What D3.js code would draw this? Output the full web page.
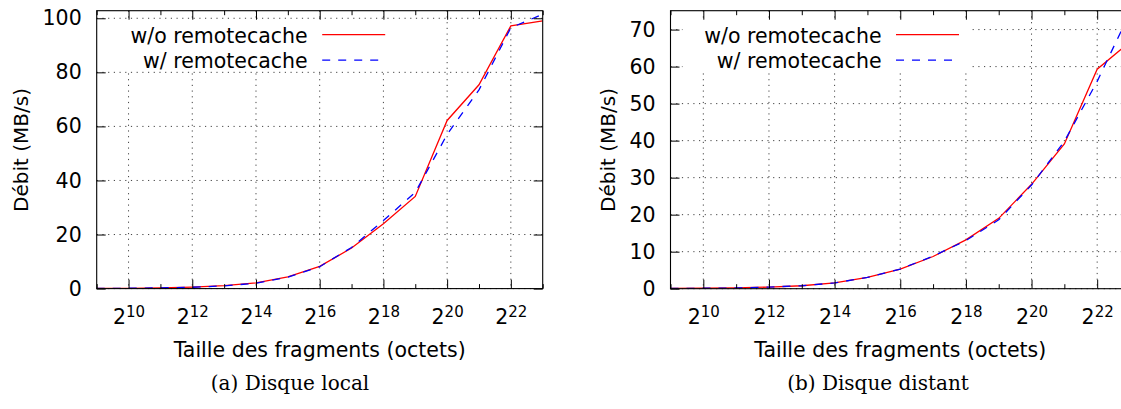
<!DOCTYPE html>
<html>
<head>
<meta charset="utf-8">
<script src="https://cdn.jsdelivr.net/npm/d3@7"></script>
<style>
    body { margin: 0; background: #fff; }
    text { font-family: "DejaVu Sans", sans-serif; fill: #000; }
</style>
</head>
<body>
<div id="chart"></div>
<script>

// fragment sizes, as powers of two (2^9 .. 2^23)
var sizeExp = [9, 10, 11, 12, 13, 14, 15, 16, 17, 18, 19, 20, 21, 22, 23];

// debit in MB/s
var localWithout  = [0.06, 0.12, 0.25, 0.55, 1.1, 2.1, 4.3, 8.2, 15.0, 24.0, 34.1, 62.2, 75.4, 97.2, 99.0];
var localWith     = [0.06, 0.12, 0.25, 0.5, 1.0, 2.0, 4.2, 8.1, 15.2, 25.2, 35.6, 57.0, 73.5, 96.5, 101.5];
var remoteWithout = [0.06, 0.12, 0.2, 0.45, 0.8, 1.55, 3.05, 5.3, 8.7, 13.2, 19.0, 28.2, 39.1, 59.3, 66.7];
var remoteWith    = [0.06, 0.12, 0.2, 0.45, 0.8, 1.55, 3.05, 5.3, 8.8, 13.0, 18.6, 28.0, 39.8, 56.0, 74.6];

var xMajorExp = [10, 12, 14, 16, 18, 20, 22];
var xMinorExp = [9, 11, 13, 15, 17, 19, 21, 23];
var localYTicks  = [0, 20, 40, 60, 80, 100];
var remoteYTicks = [0, 10, 20, 30, 40, 50, 60, 70];

var seriesNames = ["w/o remotecache", "w/ remotecache"];
var captions = ["(a) Disque local", "(b) Disque distant"];
var xTitle = "Taille des fragments (octets)";
var yTitle = "Débit (MB/s)";

var svg = d3.select("#chart").append("svg")
    .attr("width", 1121)
    .attr("height", 409);

svg.append("rect").attr("width", 1121).attr("height", 409).attr("fill", "#fff");

function drawPanel(p) {
    var w = p.right - p.left,
        h = p.bottom - p.top;

    var g = svg.append("g").attr("transform", "translate(" + p.left + "," + p.top + ")");

    var x = d3.scaleLog().base(2)
        .domain([Math.pow(2, 9), Math.pow(2, 23)])
        .range([0, w]);
    var y = d3.scaleLinear()
        .domain([0, p.yMax])
        .range([h, 0]);

    var pow2 = function(e) { return Math.pow(2, e); };

    g.append("clipPath").attr("id", p.id + "clip")
        .append("rect").attr("width", w).attr("height", h);

    /***** grid *****/
    var grid = g.append("g")
        .attr("stroke", "#444")
        .attr("stroke-width", 1)
        .attr("stroke-dasharray", "1.2,4.5");
    grid.selectAll(".gx").data(xMajorExp).enter().append("line")
        .attr("x1", function(d) { return x(pow2(d)); })
        .attr("x2", function(d) { return x(pow2(d)); })
        .attr("y1", 0).attr("y2", h);
    grid.selectAll(".gy").data(p.yTicks).enter().append("line")
        .attr("x1", 0).attr("x2", w)
        .attr("y1", function(d) { return y(d); })
        .attr("y2", function(d) { return y(d); });

    /***** curves *****/
    var line = d3.line()
        .x(function(d, i) { return x(pow2(sizeExp[i])); })
        .y(function(d) { return y(d); });

    var plot = g.append("g").attr("clip-path", "url(#" + p.id + "clip)");
    plot.append("path")
        .attr("d", line(p.without))
        .attr("fill", "none")
        .attr("stroke", "#ff0000")
        .attr("stroke-width", 1.3);
    plot.append("path")
        .attr("d", line(p.withCache))
        .attr("fill", "none")
        .attr("stroke", "#0000ff")
        .attr("stroke-width", 1.3)
        .attr("stroke-dasharray", "8,8");

    /***** key (opaque) *****/
    g.append("rect")
        .attr("x", 12).attr("y", 21 - p.top)
        .attr("width", 289).attr("height", 50)
        .attr("fill", "#fff");

    var keyY = [35.7 - p.top, 60.6 - p.top];
    g.append("text")
        .attr("x", 211).attr("y", keyY[0]).attr("dy", "0.36em")
        .attr("text-anchor", "end")
        .style("font-size", "20.5px")
        .text(seriesNames[0]);
    g.append("text")
        .attr("x", 211).attr("y", keyY[1]).attr("dy", "0.36em")
        .attr("text-anchor", "end")
        .style("font-size", "20.5px")
        .text(seriesNames[1]);
    g.append("line")
        .attr("x1", 225.5).attr("x2", 288.5)
        .attr("y1", keyY[0] - 1).attr("y2", keyY[0] - 1)
        .attr("stroke", "#ff0000").attr("stroke-width", 1.3);
    g.append("line")
        .attr("x1", 225.5).attr("x2", 288.5)
        .attr("y1", keyY[1] - 0.5).attr("y2", keyY[1] - 0.5)
        .attr("stroke", "#0000ff").attr("stroke-width", 1.3)
        .attr("stroke-dasharray", "8,8");

    /***** axes *****/
    var xBottom = d3.axisBottom(x)
        .tickValues(xMajorExp.map(pow2))
        .tickSizeInner(-9).tickSizeOuter(0).tickPadding(21);
    var gxb = g.append("g").attr("transform", "translate(0," + h + ")").call(xBottom);
    gxb.select(".domain").remove();
    gxb.selectAll(".tick text").each(function(d) {
        var t = d3.select(this);
        t.text("2").style("font-size", "20.5px").attr("fill", "#000");
        t.append("tspan")
            .attr("dy", "-7.3")
            .style("font-size", "15px")
            .text(Math.round(Math.log2(d)));
    });

    // minor ticks, bottom and top
    g.append("g").call(d3.axisBottom(x).tickValues(xMinorExp.map(pow2)).tickSizeInner(-4.5).tickSizeOuter(0).tickFormat(""))
        .attr("transform", "translate(0," + h + ")")
        .select(".domain").remove();
    g.append("g").call(d3.axisTop(x).tickValues(xMinorExp.map(pow2)).tickSizeInner(-4.5).tickSizeOuter(0).tickFormat(""))
        .select(".domain").remove();
    g.append("g").call(d3.axisTop(x).tickValues(xMajorExp.map(pow2)).tickSizeInner(-9).tickSizeOuter(0).tickFormat(""))
        .select(".domain").remove();

    var gyl = g.append("g").call(d3.axisLeft(y).tickValues(p.yTicks).tickSizeInner(-9).tickSizeOuter(0).tickPadding(15));
    gyl.select(".domain").remove();
    gyl.selectAll(".tick text").style("font-size", "20.5px").attr("fill", "#000");
    g.append("g").attr("transform", "translate(" + w + ",0)")
        .call(d3.axisRight(y).tickValues(p.yTicks).tickSizeInner(-9).tickSizeOuter(0).tickFormat(""))
        .select(".domain").remove();

    g.selectAll(".tick line").attr("stroke", "#000");

    // border
    g.append("rect")
        .attr("width", w).attr("height", h)
        .attr("fill", "none")
        .attr("stroke", "#000")
        .attr("stroke-width", 1.1);

    /***** titles *****/
    svg.append("text")
        .attr("transform", "translate(" + p.yTitleX + ",150) rotate(-90)")
        .attr("text-anchor", "middle")
        .attr("dy", "0.36em")
        .style("font-size", "20px")
        .text(yTitle);
    svg.append("text")
        .attr("x", (p.left + p.right) / 2).attr("y", 356.7)
        .attr("text-anchor", "middle")
        .style("font-size", "20.5px")
        .text(xTitle);
    svg.append("text")
        .attr("x", p.captionX).attr("y", 390)
        .attr("text-anchor", "middle")
        .style("font-family", "'DejaVu Serif', serif")
        .style("font-size", "20px")
        .text(p.caption);
}

drawPanel({
    id: "local", left: 96.7, right: 542.7, top: 10.7, bottom: 288.6,
    yMax: 102.8, yTicks: localYTicks,
    without: localWithout, withCache: localWith,
    yTitleX: 21, captionX: 290, caption: captions[0]
});

drawPanel({
    id: "remote", left: 670.5, right: 1130, top: 10.7, bottom: 288.7,
    yMax: 75.1, yTicks: remoteYTicks,
    without: remoteWithout, withCache: remoteWith,
    yTitleX: 608, captionX: 878, caption: captions[1]
});

</script>
</body>
</html>
